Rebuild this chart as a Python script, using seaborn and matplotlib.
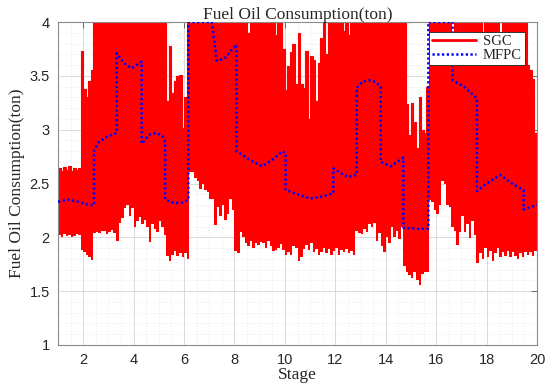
import numpy as np
import pandas as pd
import matplotlib
matplotlib.use("Agg")
import matplotlib.pyplot as plt
import seaborn as sns
from matplotlib.ticker import MultipleLocator

# SGC: lower / upper envelope of the fast-switching signal, one value per 0.1 stage (1.0 .. 20.0)
SGC_HIGH = [
    2.64, 2.62, 2.65, 2.63, 2.66, 2.62, 2.64, 2.63, 2.64, 3.73,
    3.38, 3.30, 3.45, 3.55, 4, 4, 4, 4, 4, 4,
    4, 4, 4, 4, 4, 4, 4, 4, 4, 4,
    4, 4, 4, 4, 4, 4, 4, 4, 4, 4,
    4, 4, 4, 3.27, 3.78, 3.34, 3.45, 3.50, 3.51, 3.02,
    3.30, 4, 4, 4, 4, 4, 4, 4, 4, 4,
    4, 4, 4, 4, 4, 4, 4, 4, 4, 4,
    4, 4, 4, 4, 4, 3.9, 4, 4, 4, 4,
    4, 4, 4, 4, 4, 4, 3.88, 4, 4, 3.75,
    3.37, 3.59, 3.72, 3.80, 3.42, 3.90, 3.42, 3.39, 3.73, 3.10,
    3.68, 3.65, 3.27, 3.62, 3.85, 4, 3.70, 4, 4, 4,
    4, 4, 4, 3.92, 4, 3.88, 4, 4, 4, 4,
    4, 4, 4, 4, 4, 4, 4, 4, 4, 4,
    4, 4, 4, 4, 4, 4, 4, 4, 3.24, 2.95,
    3.25, 3.07, 2.83, 3.30, 3.00, 2.97, 3.40, 4, 4, 4,
    4, 4, 4, 4, 4, 4, 3.9, 4, 4, 4,
    4, 4, 4, 4, 4, 4, 4, 4, 3.85, 4,
    4, 4, 4, 4, 4, 3.9, 4, 4, 4, 4,
    4, 4, 4, 4, 4, 4, 3.60, 3.55, 3.47, 2.97,
    2.97,
]
SGC_LOW = [
    2.02, 2.00, 2.03, 2.01, 2.02, 2.00, 2.01, 2.03, 2.02, 1.88,
    1.86, 1.84, 1.82, 1.79, 2.04, 2.05, 2.04, 2.06, 2.06, 2.03,
    2.05, 2.07, 2.04, 1.97, 2.13, 2.18, 2.27, 2.30, 2.20, 2.27,
    2.10, 2.15, 2.19, 2.12, 2.16, 2.10, 1.96, 2.12, 2.08, 2.05,
    2.15, 2.10, 2.02, 1.83, 1.78, 1.84, 1.87, 1.83, 1.85, 1.82,
    1.85, 1.80, 2.61, 2.61, 2.55, 2.52, 2.45, 2.50, 2.44, 2.42,
    2.36, 2.36, 2.11, 2.28, 2.20, 2.30, 2.16, 2.22, 2.36, 2.25,
    1.87, 1.85, 2.05, 2.00, 1.95, 1.92, 1.97, 1.90, 1.95, 1.93,
    1.96, 1.95, 1.90, 1.97, 1.92, 1.87, 1.88, 1.90, 1.94, 1.88,
    1.84, 1.86, 1.84, 1.92, 1.90, 1.78, 1.82, 1.89, 1.93, 1.88,
    1.95, 1.86, 1.89, 1.84, 1.86, 1.90, 1.85, 1.89, 1.84, 1.87,
    1.90, 1.84, 1.88, 1.86, 1.89, 1.85, 1.87, 1.84, 2.06, 2.04,
    2.03, 2.08, 2.05, 2.12, 2.10, 2.13, 1.97, 2.04, 1.92, 1.86,
    2.00, 1.95, 2.10, 2.00, 2.06, 1.98, 2.10, 1.73, 1.68, 1.65,
    1.62, 1.68, 1.60, 1.56, 1.66, 1.68, 1.68, 2.35, 2.33, 2.25,
    2.22, 2.30, 2.52, 2.50, 2.30, 2.28, 2.10, 2.06, 1.93, 2.05,
    2.20, 2.05, 2.12, 1.99, 2.15, 2.02, 1.76, 1.85, 1.80, 1.90,
    1.82, 1.87, 1.78, 1.85, 1.90, 1.82, 1.86, 1.83, 1.87, 1.82,
    1.86, 1.83, 1.80, 1.85, 1.82, 1.86, 1.84, 1.86, 1.83, 1.87,
    1.87,
]
SGC_STAGE = np.linspace(1, 20, len(SGC_HIGH))

# MFPC: piecewise path (repeated stage = vertical jump)
MFPC_STAGE = [1.0, 1.4, 1.8, 2.1, 2.3, 2.43, 2.43, 2.6, 2.9, 3.33,
              3.33, 3.6, 3.92, 4.32, 4.32, 4.6, 4.9, 5.15, 5.25, 5.25,
              5.6, 5.9, 6.17, 6.17, 7.1, 7.3, 7.6, 8.08, 8.08, 8.6,
              9.1, 9.5, 9.9, 10.03, 10.03, 10.5, 11.0, 11.5, 11.92, 11.92,
              12.2, 12.5, 12.85, 12.85, 13.1, 13.4, 13.6, 13.8, 13.8, 14.2,
              14.7, 14.7, 15.2, 15.69, 15.69, 16.65, 16.65, 17.1, 17.62, 17.62,
              18.0, 18.54, 19.0, 19.47, 19.47, 20.0]
MFPC_VALUE = [2.33, 2.35, 2.33, 2.31, 2.30, 2.30, 2.81, 2.88, 2.93, 2.97,
              3.71, 3.62, 3.57, 3.63, 2.87, 2.95, 2.97, 2.94, 2.88, 2.35,
              2.32, 2.32, 2.35, 4.0, 4.0, 3.64, 3.66, 3.79, 2.80, 2.72,
              2.66, 2.72, 2.80, 2.78, 2.44, 2.40, 2.36, 2.38, 2.41, 2.64,
              2.60, 2.56, 2.58, 3.39, 3.45, 3.46, 3.44, 3.40, 2.70, 2.66,
              2.74, 2.09, 2.08, 2.08, 4.0, 4.0, 3.46, 3.40, 3.29, 2.43,
              2.50, 2.58, 2.50, 2.44, 2.26, 2.30]

X_TICKS = [2, 4, 6, 8, 10, 12, 14, 16, 18, 20]
Y_TICKS = [1, 1.5, 2, 2.5, 3, 3.5, 4]

SERIF = "Liberation Serif"
SANS = "Liberation Sans"

sns.set_style("white")

sgc = pd.DataFrame({"stage": SGC_STAGE, "high": SGC_HIGH, "low": SGC_LOW})
mfpc = pd.DataFrame({"stage": MFPC_STAGE, "value": MFPC_VALUE})

fig, ax = plt.subplots(figsize=(5.5, 3.88), dpi=100)
fig.subplots_adjust(left=58 / 550, right=537 / 550, top=1 - 22 / 388, bottom=1 - 345 / 388)

ax.fill_between(sgc["stage"], sgc["low"], sgc["high"], step="post",
                color="#ff0000", linewidth=0, zorder=2)
sns.lineplot(data=sgc, x="stage", y="high", ax=ax, color="#ff0000", lw=0.8,
             drawstyle="steps-post", estimator=None, sort=False, label="SGC", zorder=2)
sns.lineplot(data=mfpc, x="stage", y="value", ax=ax, color="#0000ff", lw=1.8,
             linestyle=(0, (0.9, 1.0)), estimator=None, sort=False, label="MFPC", zorder=3)

ax.set_xlim(1, 20)
ax.set_ylim(1, 4)
ax.set_xticks(X_TICKS)
ax.set_yticks(Y_TICKS)
ax.set_yticklabels(["1", "1.5", "2", "2.5", "3", "3.5", "4"])
ax.xaxis.set_minor_locator(MultipleLocator(0.5))
ax.yaxis.set_minor_locator(MultipleLocator(0.1))
ax.grid(True, which="major", color="#d4d4d4", lw=0.6, zorder=0)
ax.grid(True, which="minor", color="#dedede", lw=0.5, linestyle=(0, (1, 2)), zorder=0)
ax.set_axisbelow(True)
ax.tick_params(which="major", direction="in", length=4, width=0.7, color="#666666",
               top=True, right=True, labelsize=10.5, labelcolor="#262626", pad=6)
ax.tick_params(which="minor", length=0)
for lab in ax.get_xticklabels() + ax.get_yticklabels():
    lab.set_fontfamily(SANS)
for sp in ax.spines.values():
    sp.set_color("#8a8a8a")
    sp.set_linewidth(0.8)

ax.set_title("Fuel Oil Consumption(ton)", fontfamily=SERIF, fontsize=12.5, pad=2)
ax.set_xlabel("Stage", fontfamily=SERIF, fontsize=12.5, labelpad=0)
ax.set_ylabel("Fuel Oil Consumption(ton)", fontfamily=SERIF, fontsize=12.5, labelpad=3)

leg = ax.legend(loc="upper right", bbox_to_anchor=(0.975, 0.97), borderaxespad=0,
                prop={"family": SERIF, "size": 10.5},
                frameon=True, fancybox=False, framealpha=1, edgecolor="#333333",
                handlelength=3.0, borderpad=0.2, labelspacing=0.05, handletextpad=0.5)
leg.get_frame().set_linewidth(0.7)
leg.get_lines()[0].set_linewidth(2)

plt.savefig("out.png", dpi=100)
plt.close()
